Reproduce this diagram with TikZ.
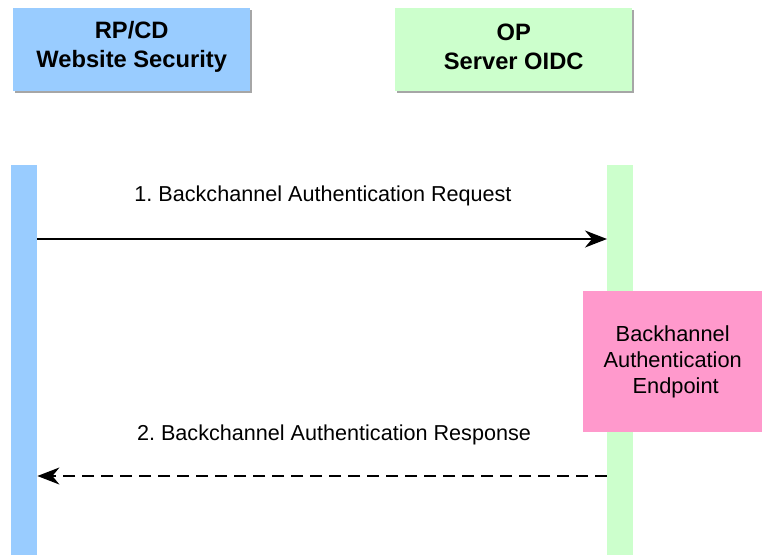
\documentclass[tikz,border=0pt]{standalone}
\usepackage{fontspec}
\setmainfont{Liberation Sans}
\usetikzlibrary{arrows.meta,shadows}
\definecolor{rpblue}{HTML}{99CCFF}
\definecolor{opgreen}{HTML}{CCFFCC}
\definecolor{eppink}{HTML}{FF99CC}
\tikzset{
  actor/.style={draw=none, inner sep=0pt, minimum width=237pt, minimum height=83pt,
    drop shadow={shadow xshift=2pt, shadow yshift=-2pt, fill=black!35, opacity=1}},
  actortext/.style={align=center, inner sep=0pt, font=\fontsize{23.7}{29}\selectfont\bfseries},
  lifeline/.style={draw=none, inner sep=0pt, minimum width=26pt},
  endpoint/.style={fill=eppink, draw=none, align=center, inner sep=0pt,
    font=\fontsize{21.8}{26}\selectfont},
  msg/.style={line width=1.6pt, -{Stealth[length=22pt, width=17pt, inset=7pt]}},
  msglabel/.style={font=\fontsize{21.6}{26}\selectfont, inner sep=0pt}
}
\frenchspacing
\begin{document}
\begin{tikzpicture}[x=1pt, y=-1pt]
  \useasboundingbox (0,0) rectangle (762,555);
  % participants
  \node[actor, fill=rpblue, anchor=north west] (rp) at (13,8) {};
  \node[actortext] (rptext) at ([yshift=3pt]rp.center) {RP/CD\\Website Security};
  \node[actor, fill=opgreen, anchor=north west] (op) at (395,8) {};
  \node[actortext] (optext) at ([yshift=3pt]op.center) {OP\\Server OIDC};
  % lifelines
  \node[lifeline, fill=rpblue, anchor=north west, minimum height=390pt] (rpbar) at (11,165) {};
  \node[lifeline, fill=opgreen, anchor=north west, minimum height=390pt] (opbar) at (607,165) {};
  % endpoint box
  \node[endpoint, anchor=north west, minimum width=179pt, minimum height=141pt] (ep) at (583,291)
    {Backhannel\\Authentication\\\ Endpoint};
  % messages
  \coordinate (m1) at (0,239);
  \coordinate (m2) at (0,476);
  \draw[msg] (rpbar.east |- m1) -- (opbar.west |- m1);
  \draw[msg, dash pattern=on 12pt off 7pt] (opbar.west |- m2) -- (rpbar.east |- m2);
  \node[msglabel] (l1) at (323,196) {1. Backchannel Authentication Request};
  \node[msglabel] (l2) at (334,435) {2. Backchannel Authentication Response};
\end{tikzpicture}
\end{document}
